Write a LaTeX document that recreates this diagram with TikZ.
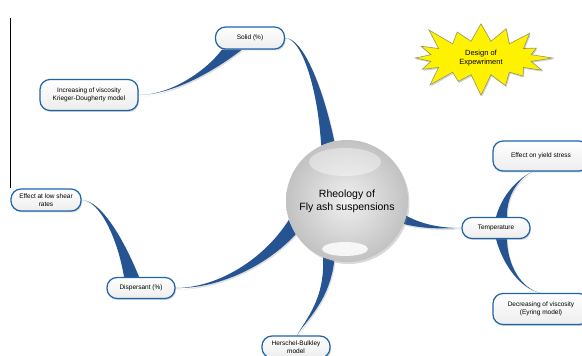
\documentclass[tikz,border=0pt]{standalone}
\usepackage{fontspec}
\setmainfont{Liberation Sans}
\usetikzlibrary{calc,shapes.symbols,shadows,positioning,backgrounds}

\definecolor{twigblue}{RGB}{38,84,146}
\definecolor{rimblue}{RGB}{30,100,172}
\definecolor{starline}{RGB}{150,150,90}

% tapered branch: start edge a, start edge b, control 1, control 2, tip
\newcommand{\twig}[5]{%
  \fill[twig] (#1) .. controls (#3) and (#4) .. (#5)
    .. controls ($(#4)+0.08*(#2)-0.08*(#1)$) and ($(#3)+0.4*(#2)-0.4*(#1)$) .. (#2) -- cycle;}

\begin{document}
\begin{tikzpicture}[x=1pt, y=1pt,
  every node/.style={font=\fontsize{6.5}{7.6}\selectfont},
  topic/.style={draw=rimblue, line width=1.2pt, rounded corners=10pt,
    top color=white, bottom color=gray!14, align=center, inner sep=1pt,
    drop shadow={opacity=0.35, shadow xshift=1pt, shadow yshift=-1.5pt}},
  twig/.style={fill=twigblue,
    drop shadow={opacity=0.25, shadow xshift=1pt, shadow yshift=-1.5pt}}]

  \useasboundingbox (0,0) rectangle (582,356);

  % left rule
  \draw[line width=0.8pt] (10,338) -- (10,168);

  % ===== centre =====
  \node[circle, minimum size=122pt, inner sep=0pt, inner color=gray!12, outer color=gray!48,
    drop shadow={opacity=0.3, shadow xshift=1.5pt, shadow yshift=-2pt}] (hub) at (347,155) {};
  \fill[white, opacity=0.4] (345,194) ellipse (36 and 14);
  \fill[white, opacity=0.85] (345,107) ellipse (23 and 7);
  \node[align=center, font=\fontsize{10.5}{13}\selectfont] (title) at (hub.center) {Rheology of\\Fly ash suspensions};

  % ===== topics =====
  \node[topic, minimum width=69pt, minimum height=22pt] (solid) at (250,318) {Solid (\%)};
  \node[topic, minimum width=98pt, minimum height=31pt] (incr) at (89,261) {Increasing of viscosity\\Krieger-Dougherty model};
  \node[topic, minimum width=68pt, minimum height=21pt] (disp) at (141,68) {Dispersant (\%)};
  \node[topic, minimum width=70pt, minimum height=22pt] (low) at (46,156) {Effect at low shear\\rates};
  \node[topic, minimum width=68pt, minimum height=22pt] (hersch) at (296,9) {Herschel-Bulkley\\model};
  \node[topic, minimum width=68pt, minimum height=21pt] (temp) at (496,128) {Temperature};
  \node[topic, minimum width=96pt, minimum height=30pt] (yield) at (541,200) {Effect on yield stress};
  \node[topic, minimum width=96pt, minimum height=31pt] (decr) at (541,47) {Decreasing of viscosity\\(Eyring model)};

  % ===== banner =====
  \node[starburst, starburst points=16, starburst point height=24pt, fill=yellow,
    draw=starline, line width=0.6pt, align=center, inner sep=2pt,
    minimum width=150pt, minimum height=82pt, font=\fontsize{7.5}{9}\selectfont,
    drop shadow={opacity=0.35, shadow xshift=1pt, shadow yshift=-1.5pt}] (doe) at (481,298) {Design of\\Expewriment};

  % ===== branch ends =====
  \coordinate (h1a) at (hub.115);          \coordinate (h1b) at (hub.102);
  \coordinate (s1a) at ([xshift=-28pt]solid.south); \coordinate (s1b) at ([xshift=-8pt]solid.south);
  \coordinate (h2a) at (hub.198);          \coordinate (h2b) at (hub.213);
  \coordinate (d1a) at ([xshift=-17pt]disp.north);  \coordinate (d1b) at ([xshift=-2pt]disp.north);
  \coordinate (h3a) at (hub.247);          \coordinate (h3b) at (hub.258);
  \coordinate (h4a) at (hub.-14);          \coordinate (h4b) at (hub.-22);
  \coordinate (t1a) at ([xshift=0pt]temp.north);    \coordinate (t1b) at ([xshift=11pt]temp.north);
  \coordinate (t2a) at ([xshift=0pt]temp.south);    \coordinate (t2b) at ([xshift=11pt]temp.south);

  % ===== branches (behind the boxes) =====
  \begin{pgfonlayer}{background}
  \twig{h1a}{h1b}{318,266}{302,318}{solid.east}
  \twig{s1a}{s1b}{205,284}{170,261}{incr.east}
  \twig{h2a}{h2b}{262,94}{215,68}{disp.east}
  \twig{d1a}{d1b}{118,116}{100,156}{low.east}
  \twig{h3a}{h3b}{325,56}{305,36}{[xshift=1pt]hersch.north}
  \twig{h4a}{h4b}{425,130}{445,128}{temp.west}
  \twig{t1a}{t1b}{502,161}{518,178}{[xshift=-8pt]yield.south}
  \twig{t2a}{t2b}{503,91}{520,68}{[xshift=-1pt]decr.north}
  \end{pgfonlayer}

\end{tikzpicture}
\end{document}
